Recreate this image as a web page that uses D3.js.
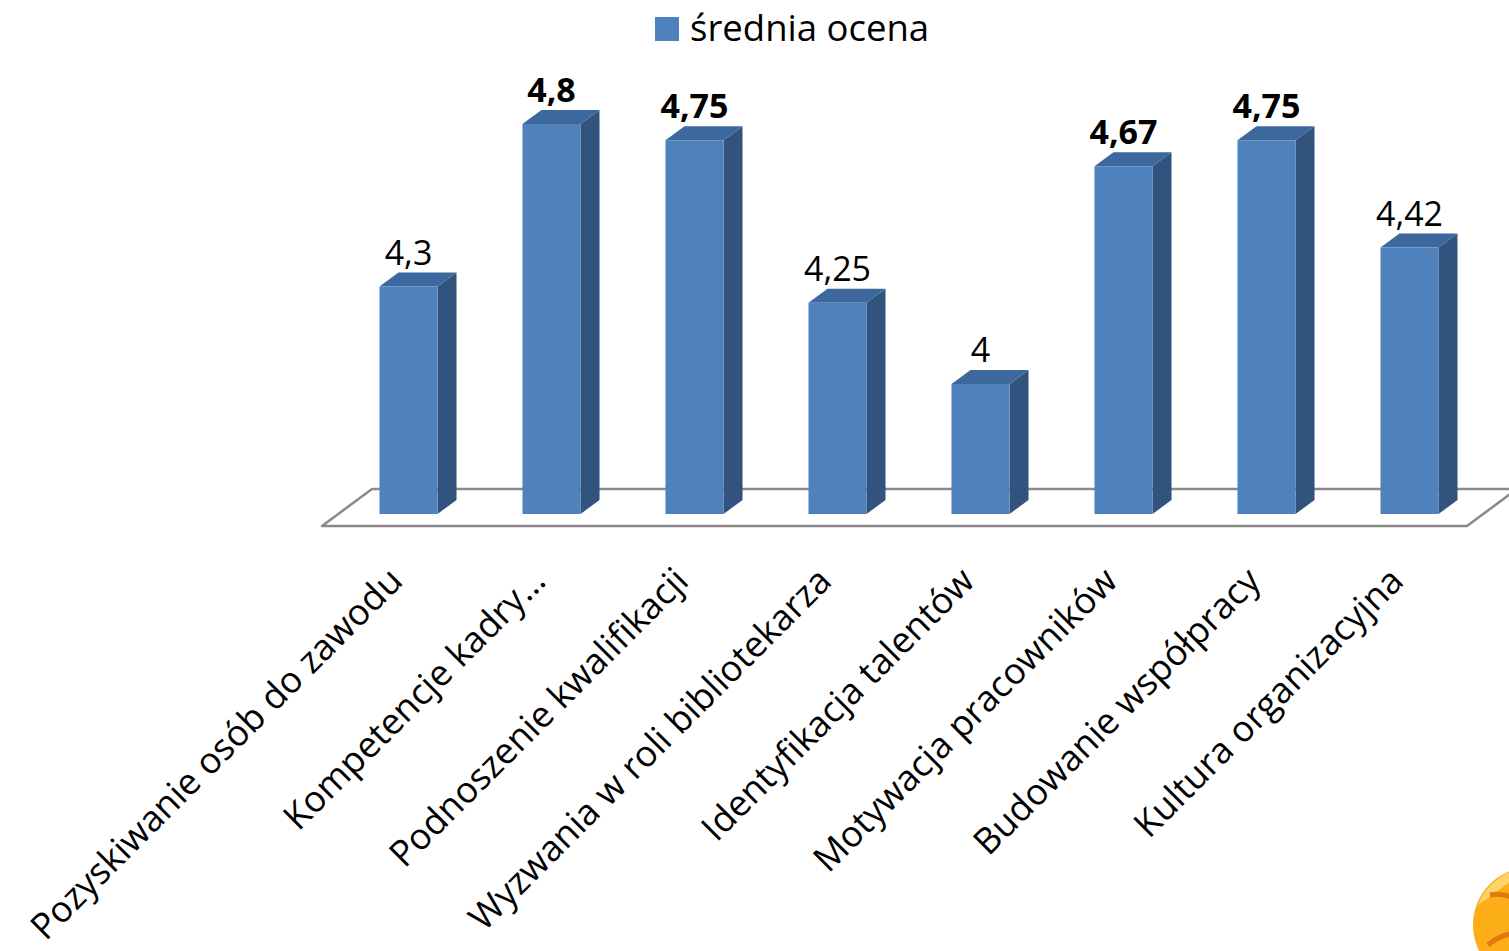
<!DOCTYPE html>
<html>
<head>
<meta charset="utf-8">
<script src="https://cdn.jsdelivr.net/npm/d3@7"></script>
<style>
  html, body { margin: 0; padding: 0; background: #ffffff; }
  svg { display: block; }
</style>
</head>
<body>
<svg id="chart" width="1509" height="951"></svg>
<script>
// ---- data ----
const categories = [
  "Pozyskiwanie osób do zawodu",
  "Kompetencje kadry…",
  "Podnoszenie kwalifikacji",
  "Wyzwania w roli bibliotekarza",
  "Identyfikacja talentów",
  "Motywacja pracowników",
  "Budowanie współpracy",
  "Kultura organizacyjna"
];
const values = [4.3, 4.8, 4.75, 4.25, 4, 4.67, 4.75, 4.42];
const valueLabels = ["4,3", "4,8", "4,75", "4,25", "4", "4,67", "4,75", "4,42"];
const seriesName = "średnia ocena";

// ---- layout ----
const W = 1509, H = 951;
const FONT = "'Open Sans', 'Noto Sans', sans-serif";
const colFront = "#4F81BD", colSide = "#32537D", colTop = "#3D689D";
const depthX = 19, depthY = -14;

const svg = d3.select("#chart");

const x = d3.scaleBand().domain(categories).range([337, 1481])
  .paddingInner(0.594).paddingOuter(0.297);
const y = d3.scaleLinear().domain([3.6, 4.8]).range([514, 124]);

// floor (parallelogram)
const floorFrontY = 526, floorBackY = 489, floorL = 322, floorR = 1467, floorDX = 50;
const floorG = svg.append("g");
floorG.append("path")
  .attr("d", `M${floorL},${floorFrontY} L${floorR},${floorFrontY} L${floorR + floorDX},${floorBackY} L${floorL + floorDX},${floorBackY} Z`)
  .attr("fill", "#ffffff")
  .attr("stroke", "#8A8A8A")
  .attr("stroke-width", 2.5)
  .attr("stroke-linejoin", "round");

// bars
const bw = x.bandwidth();
const bars = svg.append("g").selectAll("g.bar").data(values).join("g").attr("class", "bar");
bars.each(function(v, i) {
  const g = d3.select(this);
  const x0 = x(categories[i]), x1 = x0 + bw;
  const yt = y(v), yb = y(3.6);
  // side face
  g.append("path")
    .attr("d", `M${x1},${yb} L${x1 + depthX},${yb + depthY} L${x1 + depthX},${yt + depthY} L${x1},${yt} Z`)
    .attr("fill", colSide);
  // top face
  g.append("path")
    .attr("d", `M${x0},${yt} L${x0 + depthX},${yt + depthY} L${x1 + depthX},${yt + depthY} L${x1},${yt} Z`)
    .attr("fill", colTop);
  // front face
  g.append("rect")
    .attr("x", x0).attr("y", yt).attr("width", bw).attr("height", yb - yt)
    .attr("fill", colFront);
});

// value labels
svg.append("g").selectAll("text").data(values).join("text")
  .attr("x", (d, i) => x(categories[i]) + bw / 2)
  .attr("y", d => y(d) - 22)
  .attr("text-anchor", "middle")
  .attr("font-family", FONT)
  .attr("font-size", 34)
  .attr("font-weight", d => d >= 4.5 ? 700 : 400)
  .attr("fill", "#000")
  .text((d, i) => valueLabels[i]);

// category labels (rotated -45°)
svg.append("g").selectAll("text").data(categories).join("text")
  .attr("transform", d => `translate(${x(d) + bw / 2 - 4},${583}) rotate(-45)`)
  .attr("text-anchor", "end")
  .attr("font-family", FONT)
  .attr("font-size", 36)
  .attr("fill", "#000")
  .text(d => d);

// legend
const lg = svg.append("g");
lg.append("rect").attr("x", 655).attr("y", 17).attr("width", 24).attr("height", 24).attr("fill", colFront);
lg.append("text").attr("x", 690).attr("y", 41)
  .attr("font-family", FONT).attr("font-size", 36.5).attr("fill", "#000")
  .text(seriesName);

// decorative logo fragment (bottom-right corner)
const logo = svg.append("g");
logo.append("circle").attr("cx", 1531).attr("cy", 925).attr("r", 58).attr("fill", "#FBAE17");
logo.append("path").attr("d", "M1478,905 A58,58 0 0 1 1540,868 L1520,875 Z").attr("fill", "#FDD36A");
logo.append("path").attr("d", "M1490,895 Q1505,892 1520,902").attr("fill", "none").attr("stroke", "#E07A10").attr("stroke-width", 5);
logo.append("path").attr("d", "M1488,945 Q1500,935 1515,933").attr("fill", "none").attr("stroke", "#E07A10").attr("stroke-width", 5);
</script>
</body>
</html>
